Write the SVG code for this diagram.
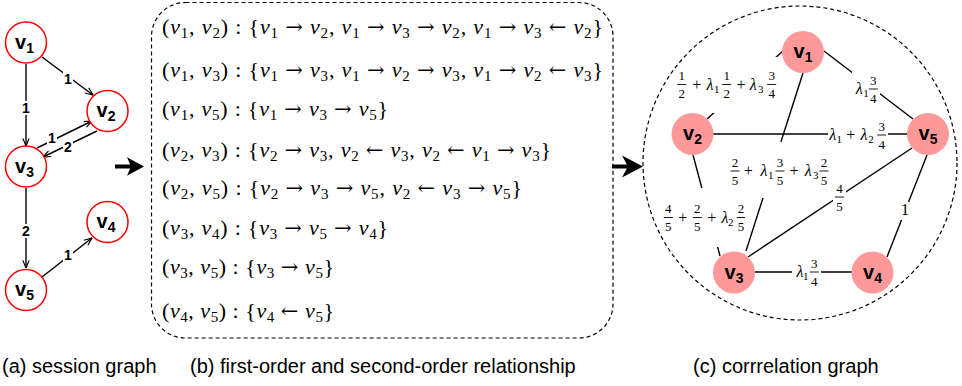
<svg xmlns="http://www.w3.org/2000/svg" width="962" height="386" viewBox="0 0 962 386">
<defs>
<style>
.ln{stroke:#000;stroke-width:1.4;fill:none}
.an{stroke:#000;stroke-width:1.4;fill:none;marker-end:url(#open)}
.dash{stroke:#000;stroke-width:1.2;fill:none;stroke-dasharray:4 3}
.na{fill:#fff;stroke:#ff0000;stroke-width:1.5}
.nc{fill:#ff9999;stroke:none}
.nl{font-family:"Liberation Sans",Arial,sans-serif;font-weight:bold;font-size:20px;text-anchor:middle;fill:#000}
.ns{font-size:14px;baseline-shift:-4px}
.el{font-family:"Liberation Sans",Arial,sans-serif;font-weight:bold;font-size:14px;text-anchor:middle;fill:#000}
.bg{fill:#fff;stroke:none}
.m{font-family:"Liberation Serif","DejaVu Serif",serif;font-size:22px;fill:#000}
.v{font-style:italic}
.s{font-size:15px;baseline-shift:-4px;font-style:normal}
.a{font-family:"DejaVu Serif",serif;font-size:21px}
.lm{font-family:"Liberation Serif","DejaVu Serif",serif;font-size:16px;text-anchor:middle;fill:#000}
.li{font-style:italic}
.ls{font-size:11px}
.fd{font-family:"Liberation Serif","DejaVu Serif",serif;font-size:13px;text-anchor:middle;fill:#000}
.fb{stroke:#000;stroke-width:0.9}
.cap{font-family:"Liberation Sans",Arial,sans-serif;font-size:20px;fill:#000}
</style>
<marker id="open" viewBox="0 0 10 10" refX="9.5" refY="5" markerWidth="9" markerHeight="9" markerUnits="userSpaceOnUse" orient="auto">
<path d="M1,1.5 L9.5,5 L1,8.5" fill="none" stroke="#000" stroke-width="1.3"/>
</marker>
</defs>
<rect width="962" height="386" fill="#fff"/>

<g id="panel-a">
<g id="a-connectors">
<line class="an" x1="42" y1="57" x2="93" y2="95"/>
<line class="an" x1="26" y1="64" x2="26" y2="146"/>
<line class="an" x1="37" y1="148" x2="92" y2="121"/>
<line class="an" x1="97" y1="131" x2="43" y2="157"/>
<line class="an" x1="26" y1="188" x2="26" y2="268"/>
<line class="an" x1="42" y1="277" x2="92" y2="238"/>
<rect class="bg" x="63" y="72" width="10" height="14"/><text class="el" x="68" y="84">1</text>
<rect class="bg" x="21" y="101" width="10" height="14"/><text class="el" x="26" y="113">1</text>
<rect class="bg" x="47" y="131" width="10" height="14"/><text class="el" x="52" y="143">1</text>
<rect class="bg" x="63" y="140" width="10" height="14"/><text class="el" x="68" y="152">2</text>
<rect class="bg" x="21" y="224" width="10" height="14"/><text class="el" x="26" y="236">2</text>
<rect class="bg" x="63" y="248" width="10" height="14"/><text class="el" x="68" y="260">1</text>
</g>
<g id="a-v1"><circle class="na" cx="26" cy="42.5" r="20.5"/><text class="nl" x="24.5" y="48.5">v<tspan class="ns">1</tspan></text></g>
<g id="a-v2"><circle class="na" cx="107.5" cy="111" r="20.5"/><text class="nl" x="106" y="117">v<tspan class="ns">2</tspan></text></g>
<g id="a-v3"><circle class="na" cx="26" cy="166.5" r="20.5"/><text class="nl" x="24.5" y="172.5">v<tspan class="ns">3</tspan></text></g>
<g id="a-v4"><circle class="na" cx="107.5" cy="222" r="20.5"/><text class="nl" x="106" y="228">v<tspan class="ns">4</tspan></text></g>
<g id="a-v5"><circle class="na" cx="26" cy="290" r="20.5"/><text class="nl" x="24.5" y="296">v<tspan class="ns">5</tspan></text></g>
</g>

<g id="panel-arrows">
<polygon points="115,164.5 130.1,164.5 127,157.3 144,166.5 127,175.7 130.1,168.5 115,168.5" fill="#000"/>
<polygon points="612,164.5 626.9,164.5 622,155.5 643,166.5 622,177.5 626.9,168.5 612,168.5" fill="#000"/>
</g>

<g id="panel-b">
<rect class="dash" x="151.5" y="2.5" width="461.5" height="335.5" rx="34" ry="34"/>
<text class="m" x="162" y="34" textLength="441">(<tspan class="v">v</tspan><tspan class="s">1</tspan>, <tspan class="v">v</tspan><tspan class="s">2</tspan>) : {<tspan class="v">v</tspan><tspan class="s">1</tspan> <tspan class="a">→</tspan> <tspan class="v">v</tspan><tspan class="s">2</tspan>, <tspan class="v">v</tspan><tspan class="s">1</tspan> <tspan class="a">→</tspan> <tspan class="v">v</tspan><tspan class="s">3</tspan> <tspan class="a">→</tspan> <tspan class="v">v</tspan><tspan class="s">2</tspan>, <tspan class="v">v</tspan><tspan class="s">1</tspan> <tspan class="a">→</tspan> <tspan class="v">v</tspan><tspan class="s">3</tspan> <tspan class="a">←</tspan> <tspan class="v">v</tspan><tspan class="s">2</tspan>}</text>
<text class="m" x="162" y="77" textLength="441">(<tspan class="v">v</tspan><tspan class="s">1</tspan>, <tspan class="v">v</tspan><tspan class="s">3</tspan>) : {<tspan class="v">v</tspan><tspan class="s">1</tspan> <tspan class="a">→</tspan> <tspan class="v">v</tspan><tspan class="s">3</tspan>, <tspan class="v">v</tspan><tspan class="s">1</tspan> <tspan class="a">→</tspan> <tspan class="v">v</tspan><tspan class="s">2</tspan> <tspan class="a">→</tspan> <tspan class="v">v</tspan><tspan class="s">3</tspan>, <tspan class="v">v</tspan><tspan class="s">1</tspan> <tspan class="a">→</tspan> <tspan class="v">v</tspan><tspan class="s">2</tspan> <tspan class="a">←</tspan> <tspan class="v">v</tspan><tspan class="s">3</tspan>}</text>
<text class="m" x="162" y="116" textLength="226">(<tspan class="v">v</tspan><tspan class="s">1</tspan>, <tspan class="v">v</tspan><tspan class="s">5</tspan>) : {<tspan class="v">v</tspan><tspan class="s">1</tspan> <tspan class="a">→</tspan> <tspan class="v">v</tspan><tspan class="s">3</tspan> <tspan class="a">→</tspan> <tspan class="v">v</tspan><tspan class="s">5</tspan>}</text>
<text class="m" x="162" y="157" textLength="389">(<tspan class="v">v</tspan><tspan class="s">2</tspan>, <tspan class="v">v</tspan><tspan class="s">3</tspan>) : {<tspan class="v">v</tspan><tspan class="s">2</tspan> <tspan class="a">→</tspan> <tspan class="v">v</tspan><tspan class="s">3</tspan>, <tspan class="v">v</tspan><tspan class="s">2</tspan> <tspan class="a">←</tspan> <tspan class="v">v</tspan><tspan class="s">3</tspan>, <tspan class="v">v</tspan><tspan class="s">2</tspan> <tspan class="a">←</tspan> <tspan class="v">v</tspan><tspan class="s">1</tspan> <tspan class="a">→</tspan> <tspan class="v">v</tspan><tspan class="s">3</tspan>}</text>
<text class="m" x="162" y="195" textLength="360">(<tspan class="v">v</tspan><tspan class="s">2</tspan>, <tspan class="v">v</tspan><tspan class="s">5</tspan>) : {<tspan class="v">v</tspan><tspan class="s">2</tspan> <tspan class="a">→</tspan> <tspan class="v">v</tspan><tspan class="s">3</tspan> <tspan class="a">→</tspan> <tspan class="v">v</tspan><tspan class="s">5</tspan>, <tspan class="v">v</tspan><tspan class="s">2</tspan> <tspan class="a">←</tspan> <tspan class="v">v</tspan><tspan class="s">3</tspan> <tspan class="a">→</tspan> <tspan class="v">v</tspan><tspan class="s">5</tspan>}</text>
<text class="m" x="162" y="235" textLength="226">(<tspan class="v">v</tspan><tspan class="s">3</tspan>, <tspan class="v">v</tspan><tspan class="s">4</tspan>) : {<tspan class="v">v</tspan><tspan class="s">3</tspan> <tspan class="a">→</tspan> <tspan class="v">v</tspan><tspan class="s">5</tspan> <tspan class="a">→</tspan> <tspan class="v">v</tspan><tspan class="s">4</tspan>}</text>
<text class="m" x="162" y="274" textLength="172">(<tspan class="v">v</tspan><tspan class="s">3</tspan>, <tspan class="v">v</tspan><tspan class="s">5</tspan>) : {<tspan class="v">v</tspan><tspan class="s">3</tspan> <tspan class="a">→</tspan> <tspan class="v">v</tspan><tspan class="s">5</tspan>}</text>
<text class="m" x="162" y="318" textLength="172">(<tspan class="v">v</tspan><tspan class="s">4</tspan>, <tspan class="v">v</tspan><tspan class="s">5</tspan>) : {<tspan class="v">v</tspan><tspan class="s">4</tspan> <tspan class="a">←</tspan> <tspan class="v">v</tspan><tspan class="s">5</tspan>}</text>
</g>

<g id="panel-c">
<g id="c-connectors">
<line class="ln" x1="783" y1="51" x2="707" y2="119"/>
<line class="ln" x1="824" y1="51" x2="913" y2="119"/>
<line class="ln" x1="803" y1="73" x2="746" y2="251"/>
<line class="ln" x1="713" y1="134" x2="908" y2="134"/>
<line class="ln" x1="693" y1="155" x2="720" y2="256"/>
<line class="ln" x1="748" y1="257" x2="912" y2="148"/>
<line class="ln" x1="927" y1="155" x2="887" y2="257"/>
<line class="ln" x1="755" y1="272" x2="852" y2="272"/>
</g>
<g id="c-labels">
<g id="lab-v1v2">
<rect class="bg" x="676" y="57" width="102" height="56"/>
<text class="fd" x="681.7" y="80">1</text><line class="fb" x1="677.2" y1="84.5" x2="686.2" y2="84.5"/><text class="fd" x="681.7" y="98">2</text>
<text class="lm" x="696.7" y="89.5">+</text>
<text class="lm li" x="710" y="89.5">λ</text><text class="lm ls" x="716.7" y="92.5">1</text>
<text class="fd" x="726.7" y="80">1</text><line class="fb" x1="722.2" y1="84.5" x2="731.2" y2="84.5"/><text class="fd" x="726.7" y="98">2</text>
<text class="lm" x="741" y="89.5">+</text>
<text class="lm li" x="753.3" y="89.5">λ</text><text class="lm ls" x="760.7" y="92.5">3</text>
<text class="fd" x="771.7" y="80">3</text><line class="fb" x1="767.2" y1="84.5" x2="776.2" y2="84.5"/><text class="fd" x="771.7" y="98">4</text>
</g>
<g id="lab-v1v3">
<rect class="bg" x="728" y="142" width="104" height="56"/>
<text class="fd" x="735" y="166.5">2</text><line class="fb" x1="730.5" y1="171" x2="739.5" y2="171"/><text class="fd" x="735" y="184.5">5</text>
<text class="lm" x="748.3" y="176">+</text>
<text class="lm li" x="764" y="176">λ</text><text class="lm ls" x="770.7" y="179">1</text>
<text class="fd" x="780" y="166.5">3</text><line class="fb" x1="775.5" y1="171" x2="784.5" y2="171"/><text class="fd" x="780" y="184.5">5</text>
<text class="lm" x="794" y="176">+</text>
<text class="lm li" x="808.3" y="176">λ</text><text class="lm ls" x="815.7" y="179">3</text>
<text class="fd" x="824" y="166.5">2</text><line class="fb" x1="819.5" y1="171" x2="828.5" y2="171"/><text class="fd" x="824" y="184.5">5</text>
</g>
<g id="lab-v1v5">
<rect class="bg" x="852" y="70" width="28" height="34"/>
<text class="lm li" x="859.3" y="94">λ</text><text class="lm ls" x="866" y="97">1</text>
<text class="fd" x="873.3" y="84.5">3</text><line class="fb" x1="868.8" y1="89" x2="877.8" y2="89"/><text class="fd" x="873.3" y="102.5">4</text>
</g>
<g id="lab-v2v5">
<rect class="bg" x="828" y="120" width="60" height="30"/>
<text class="lm li" x="832.7" y="140">λ</text><text class="lm ls" x="839.3" y="143">1</text>
<text class="lm" x="850.7" y="140">+</text>
<text class="lm li" x="864" y="140">λ</text><text class="lm ls" x="871" y="143">2</text>
<text class="fd" x="881.7" y="130.5">3</text><line class="fb" x1="877.2" y1="135" x2="886.2" y2="135"/><text class="fd" x="881.7" y="148.5">4</text>
</g>
<g id="lab-v2v3">
<rect class="bg" x="662" y="188" width="83" height="59"/>
<text class="fd" x="668.3" y="213">4</text><line class="fb" x1="663.8" y1="217.5" x2="672.8" y2="217.5"/><text class="fd" x="668.3" y="231">5</text>
<text class="lm" x="682.7" y="222.5">+</text>
<text class="fd" x="697.3" y="213">2</text><line class="fb" x1="692.8" y1="217.5" x2="701.8" y2="217.5"/><text class="fd" x="697.3" y="231">5</text>
<text class="lm" x="711.7" y="222.5">+</text>
<text class="lm li" x="725" y="222.5">λ</text><text class="lm ls" x="730.7" y="225.5">2</text>
<text class="fd" x="741" y="213">2</text><line class="fb" x1="736.8" y1="217.5" x2="745" y2="217.5"/><text class="fd" x="741" y="231">5</text>
</g>
<g id="lab-v3v5">
<rect class="bg" x="833" y="180" width="13" height="35"/>
<text class="fd" x="839.5" y="192.5">4</text><line class="fb" x1="835" y1="197" x2="844" y2="197"/><text class="fd" x="839.5" y="210.5">5</text>
</g>
<g id="lab-v5v4">
<rect class="bg" x="898" y="202" width="14" height="18"/>
<text class="lm" x="905" y="215" font-size="15">1</text>
</g>
<g id="lab-v3v4">
<rect class="bg" x="792" y="257" width="29" height="32"/>
<text class="lm li" x="800" y="277">λ</text><text class="lm ls" x="805.7" y="280">1</text>
<text class="fd" x="814.3" y="267.5">3</text><line class="fb" x1="809.8" y1="272" x2="818.8" y2="272"/><text class="fd" x="814.3" y="285.5">4</text>
</g>
</g>
<circle id="c-boundary" class="dash" cx="800" cy="163" r="157"/>
<g id="c-v1"><circle class="nc" cx="803" cy="52" r="21"/><text class="nl" x="803" y="58">v<tspan class="ns">1</tspan></text></g>
<g id="c-v2"><circle class="nc" cx="692.5" cy="134" r="21"/><text class="nl" x="692.5" y="140">v<tspan class="ns">2</tspan></text></g>
<g id="c-v5"><circle class="nc" cx="928" cy="134" r="21"/><text class="nl" x="928" y="140">v<tspan class="ns">5</tspan></text></g>
<g id="c-v3"><circle class="nc" cx="734" cy="272.5" r="21"/><text class="nl" x="734" y="278.5">v<tspan class="ns">3</tspan></text></g>
<g id="c-v4"><circle class="nc" cx="872.5" cy="272.5" r="21"/><text class="nl" x="872.5" y="278.5">v<tspan class="ns">4</tspan></text></g>
</g>

<g id="captions">
<text class="cap" x="2" y="373">(a) session graph</text>
<text class="cap" x="190" y="373">(b) first-order and second-order relationship</text>
<text class="cap" x="693" y="373">(c) corrrelation graph</text>
</g>
</svg>
